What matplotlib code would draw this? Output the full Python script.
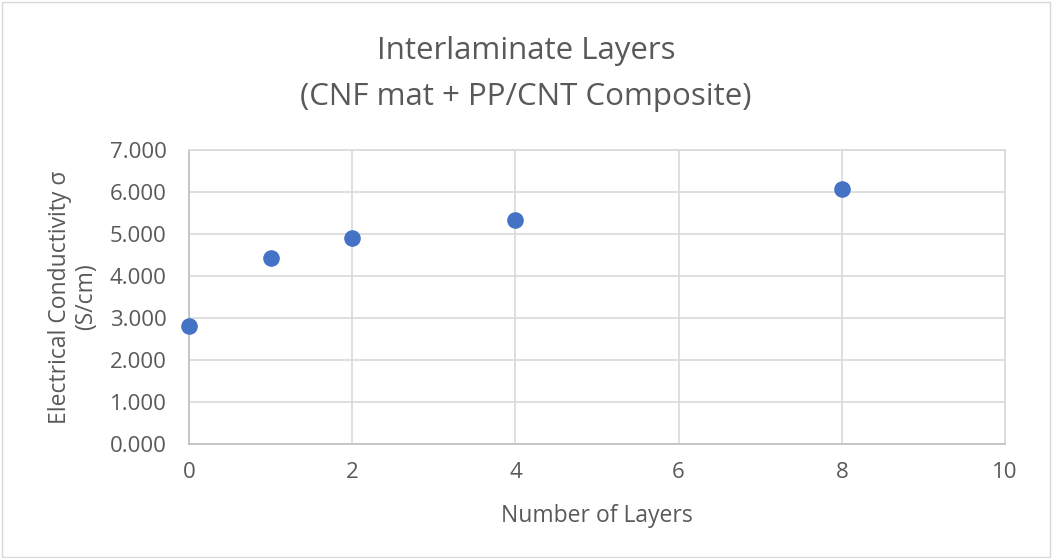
import matplotlib.pyplot as plt
from matplotlib.patches import Rectangle

# data
layers = [0, 1, 2, 4, 8]
conductivity = [2.82, 4.44, 4.91, 5.33, 6.07]

x_ticks = [0, 2, 4, 6, 8, 10]
y_ticks = [0, 1, 2, 3, 4, 5, 6, 7]

plt.rcParams['font.family'] = ['Open Sans', 'DejaVu Sans']
text_color = '#595959'
grid_color = '#D9D9D9'

W, H = 1052, 558
fig = plt.figure(figsize=(W / 100, H / 100), dpi=100)
ax = fig.add_axes([189 / W, 1 - 444 / H, (1005 - 189) / W, (444 - 150) / H])

ax.scatter(layers, conductivity, s=120, color='#4472C4', zorder=3, clip_on=False)

ax.set_xlim(0, 10)
ax.set_ylim(0, 7)
ax.set_xticks(x_ticks)
ax.set_yticks(y_ticks)
ax.set_yticklabels([f'{v:.3f}' for v in y_ticks])
ax.grid(True, color=grid_color, linewidth=1.2)
ax.set_axisbelow(True)
for side in ['top', 'right']:
    ax.spines[side].set_color(grid_color)
    ax.spines[side].set_linewidth(1.2)
for side in ['left', 'bottom']:
    ax.spines[side].set_color('#BFBFBF')
    ax.spines[side].set_linewidth(1.2)
ax.tick_params(length=0, labelsize=16, colors=text_color)
ax.tick_params(axis='y', pad=16)
ax.tick_params(axis='x', pad=13)

# axis titles
fig.text(0.5 + (189 + 1005 - W) / 2 / W, 1 - 516 / H, 'Number of Layers', ha='center', va='center',
         fontsize=16.5, color=text_color)
fig.text(73 / W, 1 - 297 / H, 'Electrical Conductivity σ\n(S/cm)', ha='center', va='center',
         rotation=90, multialignment='center', fontsize=16.5, color=text_color,
         linespacing=1.15)

# chart title
fig.text(0.5, 1 - 51 / H, 'Interlaminate Layers', ha='center', va='center',
         fontsize=22.5, color=text_color)
fig.text(0.5, 1 - 97 / H, '(CNF mat + PP/CNT Composite)', ha='center', va='center',
         fontsize=22.5, color=text_color)

# chart area border
fig.patches.append(Rectangle((0.002, 0.002), 0.996, 0.994, transform=fig.transFigure,
                             fill=False, edgecolor=grid_color, linewidth=1))

plt.savefig('out.png', dpi=100)
